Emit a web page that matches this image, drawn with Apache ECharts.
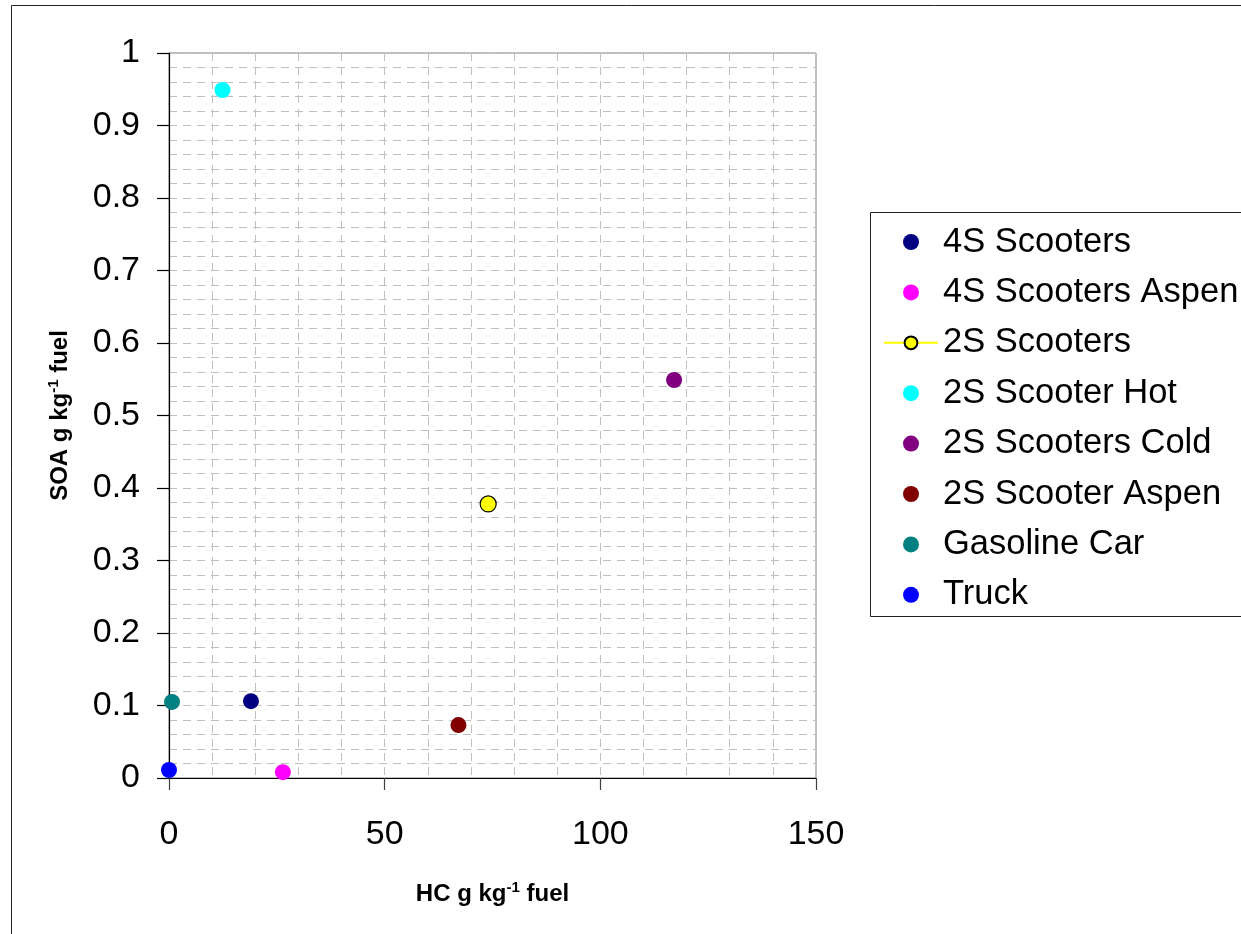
<!DOCTYPE html>
<html>
<head>
<meta charset="utf-8">
<title>SOA vs HC emission factors</title>
<script src="https://cdn.jsdelivr.net/npm/echarts@6/dist/echarts.min.js"></script>
<style>
  html, body { margin: 0; padding: 0; background: #ffffff; }
  #chart { width: 1241px; height: 934px; }
</style>
</head>
<body>
<div id="chart"></div>
<script>
// Vehicle categories (one series each)
const seriesNames = [
  '4S Scooters',
  '4S Scooters Aspen',
  '2S Scooters',
  '2S Scooter Hot',
  '2S Scooters Cold',
  '2S Scooter Aspen',
  'Gasoline Car',
  'Truck'
];

// HC emission factor, g kg-1 fuel
const hcValues = [19.0, 26.4, 74.0, 12.4, 117.1, 67.1, 0.7, 0.0];

// SOA production, g kg-1 fuel
const soaValues = [0.106, 0.008, 0.378, 0.949, 0.549, 0.073, 0.105, 0.011];

// Axis tick labels
const xTickLabels = ['0', '50', '100', '150'];
const yTickLabels = ['0', '0.1', '0.2', '0.3', '0.4', '0.5', '0.6', '0.7', '0.8', '0.9', '1'];

// Marker fill colours, in series order
const markerColors = ['#000080', '#ff00ff', '#ffff00', '#00ffff', '#800080', '#800000', '#008080', '#0000ff'];

const FONT = '"Liberation Sans", Arial, Helvetica, sans-serif';
const xTicks = xTickLabels.map(Number);
const yTicks = yTickLabels.map(Number);

const gridLine = { color: '#c0c0c0', width: 1, type: [8, 6] };

const series = seriesNames.map((name, i) => {
  const point = [[hcValues[i], soaValues[i]]];
  if (name === '2S Scooters') {
    // drawn as a line series so its legend key shows the line + marker
    return {
      name, type: 'line', data: point,
      symbol: 'circle', symbolSize: 16, showSymbol: true,
      lineStyle: { color: markerColors[i], width: 1.5 },
      itemStyle: { color: markerColors[i], borderColor: '#000000', borderWidth: 1.2 },
      emphasis: { disabled: true },
      z: 3
    };
  }
  return {
    name, type: 'scatter', data: point,
    symbol: 'circle', symbolSize: 16,
    itemStyle: { color: markerColors[i], opacity: 1 },
    emphasis: { disabled: true },
    z: 3
  };
});

const axisTitleRich = {
  b: { fontFamily: FONT, fontWeight: 'bold', fontSize: 24, color: '#000', lineHeight: 28 },
  sup: { fontFamily: FONT, fontWeight: 'bold', fontSize: 15, color: '#000', verticalAlign: 'top', lineHeight: 28 }
};

const chart = echarts.init(document.getElementById('chart'), null, { renderer: 'canvas' });

chart.setOption({
  backgroundColor: '#ffffff',
  animation: false,
  grid: {
    left: 169, top: 53, right: 425, bottom: 156,
    show: true, borderColor: '#808080', borderWidth: 1, backgroundColor: 'transparent'
  },
  xAxis: {
    type: 'value',
    min: xTicks[0], max: xTicks[xTicks.length - 1], interval: xTicks[1] - xTicks[0],
    name: '{b|HC g kg}{sup|-1}{b| fuel}',
    nameLocation: 'middle', nameGap: 102,
    nameTextStyle: { rich: axisTitleRich },
    axisLine: { show: true, lineStyle: { color: '#000000', width: 1.2 } },
    axisTick: { show: true, inside: false, length: 12, lineStyle: { color: '#404040', width: 1.2 } },
    axisLabel: {
      margin: 40, fontFamily: FONT, fontSize: 34, color: '#000',
      formatter: v => xTickLabels[xTicks.indexOf(v)] ?? ''
    },
    splitLine: { show: true, lineStyle: gridLine },
    minorTick: { show: false, splitNumber: 5 },
    minorSplitLine: { show: true, lineStyle: gridLine }
  },
  yAxis: {
    type: 'value',
    min: yTicks[0], max: yTicks[yTicks.length - 1], interval: 0.1,
    name: '{b|SOA g kg}{sup|-1}{b| fuel}',
    nameLocation: 'middle', nameGap: 95, nameRotate: 90,
    nameTextStyle: { rich: axisTitleRich },
    axisLine: { show: true, lineStyle: { color: '#000000', width: 1.2 } },
    axisTick: { show: true, inside: false, length: 12, lineStyle: { color: '#000000', width: 1.2 } },
    axisLabel: {
      margin: 29, fontFamily: FONT, fontSize: 34, color: '#000',
      formatter: v => {
        const k = yTicks.findIndex(t => Math.abs(t - v) < 1e-9);
        return k >= 0 ? yTickLabels[k] : '';
      }
    },
    splitLine: { show: true, lineStyle: gridLine },
    minorTick: { show: false, splitNumber: 5 },
    minorSplitLine: { show: true, lineStyle: gridLine }
  },
  legend: {
    orient: 'vertical',
    left: 883, top: 224.5,
    padding: 0,
    itemWidth: 54, itemHeight: 16,
    itemGap: 15.4,
    selectedMode: false,
    textStyle: { fontFamily: FONT, fontSize: 34.5, color: '#000', lineHeight: 34 },
    data: seriesNames
  },
  graphic: [
    // outer chart frame
    { type: 'rect', silent: true, z: 0,
      shape: { x: 11.5, y: 5.5, width: 1300, height: 1000 },
      style: { fill: null, stroke: '#222222', lineWidth: 1 } },
    // legend frame
    { type: 'rect', silent: true, z: 0,
      shape: { x: 870.5, y: 212.5, width: 500, height: 404 },
      style: { fill: null, stroke: '#222222', lineWidth: 1 } }
  ],
  series
});
</script>
</body>
</html>
